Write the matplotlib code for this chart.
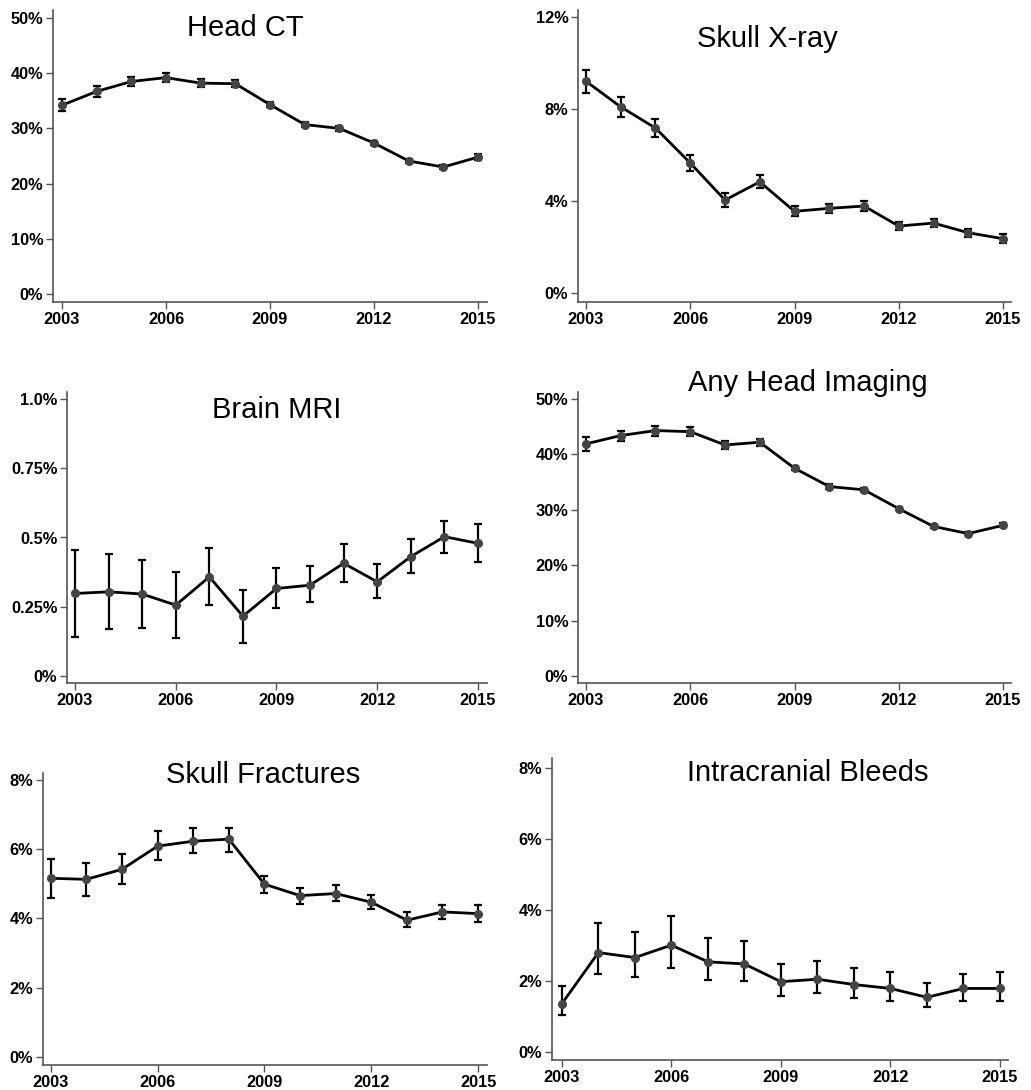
import numpy as np
import matplotlib
matplotlib.use("Agg")
import matplotlib.pyplot as plt

plt.rcParams['font.family'] = ['Liberation Sans', 'DejaVu Sans']

years = list(range(2003, 2016))
year_ticks = [2003, 2006, 2009, 2012, 2015]

# rates in percent, with 95% CI half-widths
head_ct = [34.2, 36.7, 38.5, 39.2, 38.2, 38.1, 34.3, 30.7, 30.0, 27.35, 24.1, 23.0, 24.8]
head_ct_err = [1.05, 1.0, 0.8, 0.8, 0.75, 0.65, 0.45, 0.45, 0.4, 0.4, 0.4, 0.4, 0.5]

skull_xray = [9.2, 8.09, 7.17, 5.65, 4.04, 4.83, 3.55, 3.68, 3.78, 2.91, 3.04, 2.62, 2.36]
skull_xray_err = [0.5, 0.42, 0.39, 0.36, 0.32, 0.28, 0.22, 0.2, 0.2, 0.18, 0.17, 0.17, 0.2]

brain_mri = [0.298, 0.304, 0.296, 0.256, 0.358, 0.216, 0.316, 0.328, 0.407, 0.340, 0.431, 0.503, 0.479]
brain_mri_lo = [0.141, 0.169, 0.174, 0.136, 0.255, 0.119, 0.245, 0.267, 0.339, 0.280, 0.373, 0.445, 0.410]
brain_mri_hi = [0.456, 0.440, 0.420, 0.375, 0.463, 0.309, 0.391, 0.398, 0.475, 0.405, 0.493, 0.560, 0.550]

any_imaging = [41.9, 43.4, 44.3, 44.1, 41.7, 42.2, 37.5, 34.2, 33.6, 30.2, 27.0, 25.7, 27.2]
any_imaging_err = [1.3, 0.9, 0.9, 0.8, 0.7, 0.6, 0.4, 0.4, 0.35, 0.3, 0.3, 0.3, 0.35]

skull_fx = [5.16, 5.13, 5.42, 6.09, 6.23, 6.29, 4.99, 4.66, 4.72, 4.47, 3.95, 4.19, 4.14]
skull_fx_lo = [4.60, 4.66, 4.99, 5.68, 5.88, 5.92, 4.75, 4.43, 4.51, 4.26, 3.75, 3.99, 3.89]
skull_fx_hi = [5.72, 5.59, 5.85, 6.53, 6.60, 6.62, 5.24, 4.89, 4.96, 4.68, 4.18, 4.39, 4.39]

bleeds = [1.36, 2.80, 2.66, 3.01, 2.54, 2.48, 1.98, 2.05, 1.90, 1.79, 1.54, 1.79, 1.79]
bleeds_lo = [1.03, 2.19, 2.10, 2.38, 2.02, 2.00, 1.59, 1.66, 1.53, 1.45, 1.26, 1.44, 1.43]
bleeds_hi = [1.85, 3.63, 3.39, 3.83, 3.20, 3.12, 2.47, 2.57, 2.38, 2.24, 1.94, 2.21, 2.26]

W, H = 1031, 1090
fig = plt.figure(figsize=(W / 100, H / 100), dpi=100)


def panel(rect, mean, lo, hi, yticks, ylabels, ylim, xlim, title, title_xy):
    left, top, right, bottom = rect
    ax = fig.add_axes([left / W, 1 - bottom / H, (right - left) / W, (bottom - top) / H])
    mean = np.array(mean)
    yerr = [mean - np.array(lo), np.array(hi) - mean]
    ax.errorbar(years, mean, yerr=yerr, color='black', lw=2, ecolor='black',
                elinewidth=1.6, capsize=3, capthick=1.6, marker='o', ms=5.5,
                mfc='#444444', mec='#444444', zorder=3)
    ax.set_xlim(*xlim)
    ax.set_ylim(*ylim)
    ax.set_xticks(year_ticks)
    ax.set_yticks(yticks)
    ax.set_yticklabels(ylabels)
    for s in ['top', 'right']:
        ax.spines[s].set_visible(False)
    for s in ['left', 'bottom']:
        ax.spines[s].set_color('#555555')
        ax.spines[s].set_linewidth(1.2)
    ax.tick_params(direction='out', length=5, width=1, color='#555555', pad=2)
    for lab in ax.get_xticklabels() + ax.get_yticklabels():
        lab.set_fontweight('bold')
        lab.set_fontsize(11.8)
    fig.text(title_xy[0] / W, 1 - title_xy[1] / H, title, fontsize=21,
             ha='center', va='center')
    return ax


def pct(vals):
    return [f"{v:g}%" for v in vals]


panel((53, 10, 487, 302), head_ct,
      np.array(head_ct) - head_ct_err, np.array(head_ct) + head_ct_err,
      [0, 10, 20, 30, 40, 50], pct([0, 10, 20, 30, 40, 50]),
      (-1.45, 51.45), (2002.74, 2015.26), "Head CT", (245, 28))

panel((578, 10, 1011, 302), skull_xray,
      np.array(skull_xray) - skull_xray_err, np.array(skull_xray) + skull_xray_err,
      [0, 4, 8, 12], pct([0, 4, 8, 12]),
      (-0.39, 12.3), (2002.77, 2015.23), "Skull X-ray", (767, 39))

panel((67, 392, 487, 683), brain_mri, brain_mri_lo, brain_mri_hi,
      [0, 0.25, 0.5, 0.75, 1.0], ["0%", "0.25%", "0.5%", "0.75%", "1.0%"],
      (-0.025, 1.025), (2002.76, 2015.27), "Brain MRI", (277, 410))

panel((578, 392, 1011, 683), any_imaging,
      np.array(any_imaging) - any_imaging_err, np.array(any_imaging) + any_imaging_err,
      [0, 10, 20, 30, 40, 50], pct([0, 10, 20, 30, 40, 50]),
      (-1.26, 51.26), (2002.77, 2015.23), "Any Head Imaging", (808, 383))

panel((43, 773, 487, 1065), skull_fx, skull_fx_lo, skull_fx_hi,
      [0, 2, 4, 6, 8], pct([0, 2, 4, 6, 8]),
      (-0.23, 8.2), (2002.78, 2015.25), "Skull Fractures", (263, 775))

panel((552, 758, 1008, 1060), bleeds, bleeds_lo, bleeds_hi,
      [0, 2, 4, 6, 8], pct([0, 2, 4, 6, 8]),
      (-0.225, 8.28), (2002.73, 2015.22), "Intracranial Bleeds", (808, 773))

fig.savefig("out.png", dpi=100)
